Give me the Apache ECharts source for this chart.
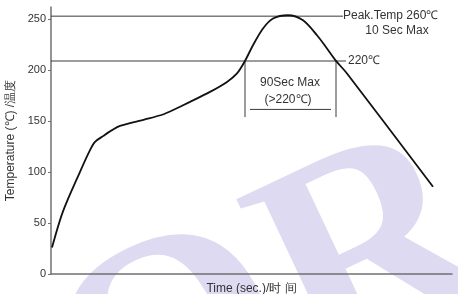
<!DOCTYPE html>
<html>
<head>
<meta charset="utf-8">
<script src="https://cdn.jsdelivr.net/npm/echarts@6/dist/echarts.min.js"></script>
<style>
html, body { margin: 0; padding: 0; background: #fff; }
#main { width: 458px; height: 294px; }
</style>
</head>
<body>
<div id="main"></div>
<script>
// reflow profile (time in sec, temp in degC)
var timeSec = [1, 12, 29, 39, 44, 52, 61, 69, 94, 112, 119, 139, 159, 176, 186, 194, 202, 212, 222, 237, 252, 266, 276, 285, 296, 382];
var tempC = [26, 61.5, 100.3, 121.6, 129.7, 135.3, 141.2, 145.4, 151.7, 156.5, 159.5, 168.9, 178.7, 188.5, 196.8, 209.1, 224.5, 240.9, 250.7, 253.9, 249, 234.3, 221.3, 209.1, 196.8, 85.6];
var yTicks = [0, 50, 100, 150, 200, 250];

// guide lines
var peakLine = [[0, 253], [292, 253]];
var line220 = [[0, 209], [295, 209]];
var winLeft = [[194, 209], [194, 154]];
var winRight = [[285, 209], [285, 154]];
var winUnder = [[199, 161.5], [280, 161.5]];

var chart = echarts.init(document.getElementById('main'));

var curve = [];
for (var i = 0; i < timeSec.length; i++) {
    curve.push([timeSec[i], tempC[i]]);
}

function guide(data) {
    return {
        type: 'line',
        data: data,
        symbol: 'none',
        silent: true,
        lineStyle: { color: '#3a3a3a', width: 1 },
        z: 3
    };
}

var font = 'Liberation Sans, Arial, sans-serif';

var option = {
    backgroundColor: '#fff',
    animation: false,
    grid: { left: 51, right: 6, top: 7, bottom: 20, outerBoundsMode: 'none' },
    xAxis: {
        type: 'value',
        min: 0,
        max: 401,
        name: 'Time (sec.)/时 间',
        nameLocation: 'middle',
        nameGap: 9,
        nameTextStyle: { color: '#333', fontSize: 12, fontFamily: font },
        axisLine: { lineStyle: { color: '#707070', width: 1.5 } },
        axisTick: { show: false },
        axisLabel: { show: false },
        splitLine: { show: false }
    },
    yAxis: {
        type: 'value',
        min: 0,
        max: 262,
        name: 'Temperature (℃) /温度',
        nameLocation: 'middle',
        nameGap: 30,
        nameTextStyle: { color: '#333', fontSize: 12, fontFamily: font },
        axisLine: { show: true, lineStyle: { color: '#707070', width: 1.5 } },
        axisTick: { show: true, length: 3, customValues: yTicks, lineStyle: { color: '#707070' } },
        axisLabel: { customValues: yTicks, color: '#333', fontSize: 11, margin: 5, fontFamily: font },
        splitLine: { show: false }
    },
    series: [
        guide(peakLine),
        guide(line220),
        guide(winLeft),
        guide(winRight),
        guide(winUnder),
        {
            type: 'line',
            data: curve,
            smooth: 0.3,
            symbol: 'none',
            lineStyle: { color: '#111', width: 1.8 },
            z: 4
        }
    ]
};
chart.setOption(option);

function px(x, y) {
    return chart.convertToPixel({ gridIndex: 0 }, [x, y]);
}

var pPeak = px(292, 253);
var p10 = px(346, 239);
var p220 = px(297, 209);
var p90 = px(239, 188);
var pGt = px(237, 171);

chart.setOption({
    graphic: [
        {
            type: 'text',
            left: 15, top: 85,
            z: -10,
            silent: true,
            rotation: 0.44,
            style: { text: 'OR', font: 'bold 290px Liberation Serif, serif', fill: '#dddaf2' }
        },
        { type: 'text', x: pPeak[0], y: pPeak[1], style: { text: 'Peak.Temp 260℃', font: '12px ' + font, fill: '#333', align: 'left', verticalAlign: 'middle' } },
        { type: 'text', x: p10[0], y: p10[1], style: { text: '10 Sec Max', font: '12px ' + font, fill: '#333', align: 'center', verticalAlign: 'middle' } },
        { type: 'text', x: p220[0], y: p220[1], style: { text: '220℃', font: '12px ' + font, fill: '#333', align: 'left', verticalAlign: 'middle' } },
        { type: 'text', x: p90[0], y: p90[1], style: { text: '90Sec Max', font: '12px ' + font, fill: '#333', align: 'center', verticalAlign: 'middle' } },
        { type: 'text', x: pGt[0], y: pGt[1], style: { text: '(>220℃)', font: '12px ' + font, fill: '#333', align: 'center', verticalAlign: 'middle' } }
    ]
});
</script>
</body>
</html>
